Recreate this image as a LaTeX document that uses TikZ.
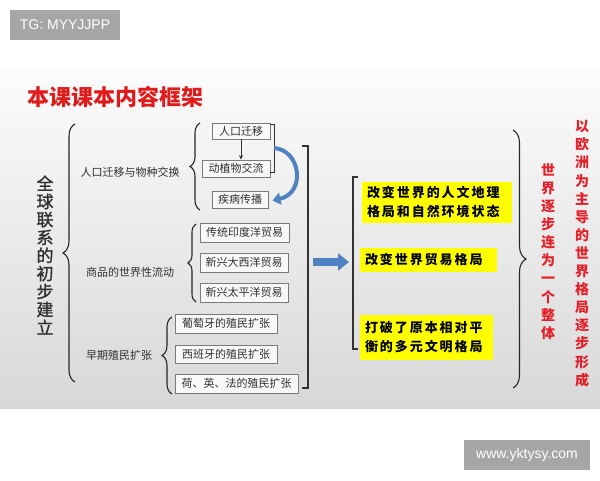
\documentclass[tikz,border=0pt]{standalone}
\usepackage{fontspec}
\setmainfont{Noto Sans CJK SC}
\newfontfamily\wmfont{Liberation Sans}
\newfontfamily\ykai[LetterSpace=15]{Noto Sans CJK SC}
\newfontfamily\medfont[FakeBold=1.2]{Noto Sans CJK SC}
\usetikzlibrary{decorations.pathreplacing,arrows.meta}
\definecolor{titlered}{HTML}{E01B1B}
\definecolor{vred}{HTML}{E4202A}
\definecolor{arrowblue}{HTML}{4F82C2}
\definecolor{boxgray}{HTML}{7A7A7A}
\definecolor{boxfill}{HTML}{F8F8F8}
\definecolor{textgray}{HTML}{303030}
\definecolor{wmgray}{HTML}{A6A6A6}
\definecolor{hlyellow}{HTML}{FFFF00}
\definecolor{slidetop}{HTML}{FCFCFC}
\definecolor{slidemid}{HTML}{F1F1F1}
\definecolor{slidebot}{HTML}{D8D8D8}
\tikzset{
  gbox/.style={draw=boxgray, line width=0.9pt, fill=boxfill, text=textgray,
    font=\fontsize{11}{13}\selectfont, inner sep=0pt},
  glabel/.style={text=textgray, font=\fontsize{11}{13}\selectfont, inner sep=0pt},
  ybox/.style={fill=hlyellow, text=black, inner xsep=5pt, inner ysep=0pt,
    font=\ykai\bfseries\fontsize{13}{19}\selectfont, align=left},
  bracestyle/.style={draw=black!85, line width=1.1pt, decorate},
  bracketline/.style={draw=black!80, line width=1.1pt},
  vtext/.style={align=center, inner sep=0pt},
  wmbox/.style={fill=wmgray, text=white, font=\wmfont\fontsize{14}{16}\selectfont, inner sep=0pt}
}
\begin{document}
\begin{tikzpicture}[x=1pt,y=-1pt]
\useasboundingbox (0,0) rectangle (600,480);
\fill[white] (0,0) rectangle (600,480);
% slide background
\shade[top color=slidetop, middle color=slidemid, bottom color=slidebot] (0,70) rectangle (600,408);

% watermarks
\node[wmbox, minimum width=110, minimum height=30] (wm1) at (65,25) {TG: MYYJJPP};
\node[wmbox, minimum width=126, minimum height=30] (wm2) at (527,455) {www.yktysy.com};

% title
\node[anchor=west, inner sep=0pt, text=titlered, font=\bfseries\fontsize{22}{24}\selectfont] (title) at (27,97) {本课课本内容框架};

% left vertical title
\node[vtext, text=textgray, font=\medfont\fontsize{17}{18}\selectfont] (root) at (45,255) {全\\球\\联\\系\\的\\初\\步\\建\\立};

% big left brace
\draw[bracestyle, decoration={brace, amplitude=12pt}] (75,382) -- (75,124);

% group labels
\node[glabel] (g1) at (130,172) {人口迁移与物种交换};
\node[glabel] (g2) at (130,272) {商品的世界性流动};
\node[glabel] (g3) at (119,355) {早期殖民扩张};

% second-level braces
\draw[bracestyle, decoration={brace, amplitude=10pt}] (200,210) -- (200,123);
\draw[bracestyle, decoration={brace, amplitude=8pt}] (196,302) -- (196,224);
\draw[bracestyle, decoration={brace, amplitude=10pt}] (172,394) -- (172,317);

% boxes
\node[gbox, minimum width=58, minimum height=16] (b1) at (241,131) {人口迁移};
\node[gbox, minimum width=68, minimum height=17] (b2) at (236,168.5) {动植物交流};
\node[gbox, minimum width=56, minimum height=17] (b3) at (240,199.5) {疾病传播};
\node[gbox, minimum width=89, minimum height=19] (c1) at (244.5,232.5) {传统印度洋贸易};
\node[gbox, minimum width=88, minimum height=19] (c2) at (244,262.5) {新兴大西洋贸易};
\node[gbox, minimum width=88, minimum height=19] (c3) at (244,292.5) {新兴太平洋贸易};
\node[gbox, minimum width=102, minimum height=19] (d1) at (226,323.5) {葡萄牙的殖民扩张};
\node[gbox, minimum width=102, minimum height=18] (d2) at (226,354) {西班牙的殖民扩张};
\node[gbox, minimum width=123, minimum height=19] (d3) at (236.5,383.5) {荷、英、法的殖民扩张};

% small arrow b1 -> b2
\draw[draw=black!80, line width=0.8pt, -{Stealth[length=4.5pt,width=4pt]}] (b1.south) -- (b1.south |- b2.north);

% bracket joining b1 and b2
\draw[bracketline, line width=0.9pt] ([yshift=-2pt]b1.north east) -- ++(4,0) |- ([yshift=5pt]b2.south east);
\coordinate (cstart) at (274,148);

% blue curved arrow to b3
\draw[draw=arrowblue, line width=4pt, -{Triangle[length=8pt,width=12pt]}]
  (cstart) .. controls (301,150) and (306,193) .. ([xshift=4pt,yshift=-1pt]b3.east);

% big right bracket
\draw[bracketline] (302,146) -- (308,146) -- (308,388) -- (302,388);

% block arrow
\coordinate (barS) at (313,262);
\coordinate (barE) at (349,262);
\draw[draw=arrowblue, line width=8pt, -{Triangle[length=11pt,width=17pt]}] (barS) -- (barE);

% yellow bracket
\draw[bracketline] (358,177) -- (353,177) -- (353,349) -- (358,349);

% yellow boxes
\node[ybox, minimum width=150, minimum height=41, text width=140] (y1) at (437,202.5) {改变世界的人文地理\\格局和自然环境状态};
\node[ybox, minimum width=137, minimum height=24, text width=127] (y2) at (428.5,260) {改变世界贸易格局};
\node[ybox, minimum width=133, minimum height=45, text width=123] (y3) at (426.5,337.5) {打破了原本相对平\\衡的多元文明格局};

% right brace
\draw[bracestyle, decoration={brace, amplitude=13pt}] (513,130) -- (513,388);

% red vertical texts
\node[vtext, text=vred, font=\bfseries\fontsize{14}{18.1}\selectfont] (r1) at (548,251.5) {世\\界\\逐\\步\\连\\为\\一\\个\\整\\体};
\node[vtext, text=vred, font=\bfseries\fontsize{14}{18.1}\selectfont] (r2) at (582,253.5) {以\\欧\\洲\\为\\主\\导\\的\\世\\界\\格\\局\\逐\\步\\形\\成};
\end{tikzpicture}
\end{document}
